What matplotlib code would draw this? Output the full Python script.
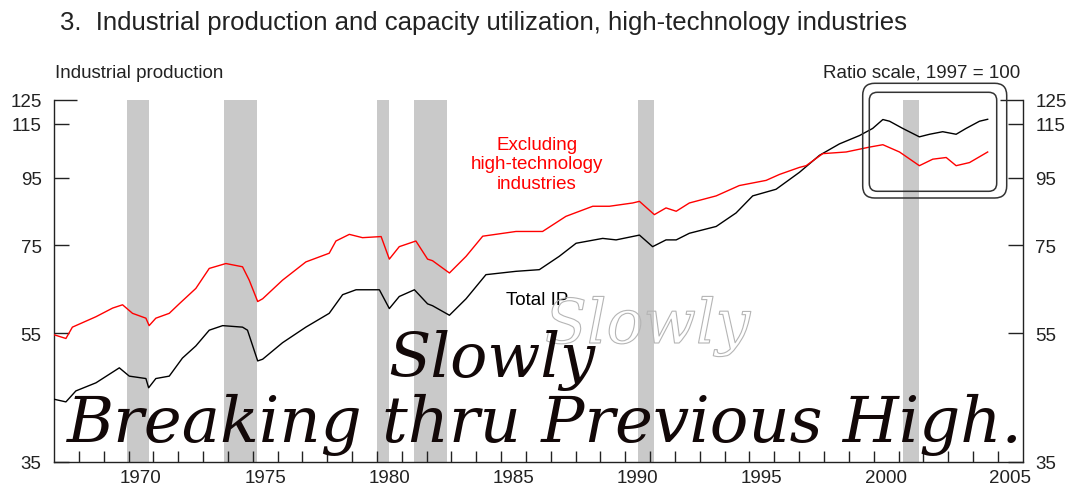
import numpy as np
import matplotlib
matplotlib.use("Agg")
import matplotlib.pyplot as plt
from matplotlib import patheffects
from matplotlib.patches import FancyBboxPatch
from matplotlib.transforms import IdentityTransform
from matplotlib.ticker import FixedLocator, FixedFormatter, NullFormatter

plt.rcParams['font.family'] = ['Liberation Sans', 'DejaVu Sans']

# Total IP, ratio scale, 1997 = 100
total_years = [1967.01, 1967.48, 1967.88, 1968.69, 1969.63, 1970.03, 1970.70, 1970.81,
               1971.10, 1971.64, 1972.17, 1972.71, 1973.25, 1973.79, 1974.59, 1974.79,
               1975.20, 1975.40, 1976.20, 1977.14, 1978.08, 1978.62, 1979.16, 1980.10,
               1980.50, 1980.90, 1981.51, 1982.04, 1982.24, 1982.92, 1983.59, 1984.39,
               1985.60, 1986.54, 1987.34, 1988.02, 1989.09, 1989.63, 1990.57, 1991.10,
               1991.64, 1992.05, 1992.58, 1993.66, 1994.46, 1995.13, 1996.07, 1997.01,
               1997.82, 1998.62, 1999.43, 1999.96, 2000.37, 2000.64, 2001.17, 2001.84,
               2002.25, 2002.78, 2003.32, 2003.72, 2004.26, 2004.59]
total_ip = [43.6, 43.2, 44.9, 46.2, 48.7, 47.3, 46.9, 45.4,
            46.9, 47.3, 50.4, 52.6, 55.6, 56.5, 56.2, 55.6,
            49.9, 50.2, 53.2, 56.2, 59.0, 63.0, 64.1, 64.1,
            60.0, 62.6, 64.1, 61.0, 60.6, 58.6, 62.1, 67.6,
            68.4, 68.8, 72.1, 75.5, 76.8, 76.4, 77.7, 74.6,
            76.4, 76.4, 78.2, 80.1, 84.0, 89.2, 91.3, 96.9,
            102.9, 107.1, 110.3, 113.1, 116.7, 116.0, 113.1, 109.8,
            110.8, 111.8, 110.8, 113.1, 116.0, 116.8]

# Excluding high-technology industries
exhi_years = [1967.01, 1967.48, 1967.74, 1968.69, 1969.36, 1969.76, 1970.16, 1970.70,
              1970.83, 1971.10, 1971.64, 1972.04, 1972.71, 1973.25, 1973.92, 1974.59,
              1974.86, 1975.20, 1975.40, 1976.20, 1977.14, 1978.08, 1978.35, 1978.89,
              1979.42, 1980.17, 1980.50, 1980.90, 1981.57, 1982.04, 1982.24, 1982.92,
              1983.59, 1984.26, 1985.60, 1986.67, 1987.61, 1988.69, 1989.36, 1990.30,
              1990.57, 1991.17, 1991.64, 1992.05, 1992.58, 1993.66, 1994.59, 1995.67,
              1996.21, 1997.01, 1997.28, 1997.95, 1998.89, 1999.83, 2000.37, 2001.04,
              2001.84, 2002.38, 2002.92, 2003.32, 2003.86, 2004.59]
exhi_ip = [54.7, 54.0, 56.2, 58.3, 60.1, 60.8, 59.0, 58.0,
           56.5, 58.0, 59.0, 61.0, 64.4, 69.1, 70.3, 69.5,
           66.3, 61.5, 62.1, 66.3, 70.7, 72.9, 76.1, 77.9,
           77.0, 77.3, 71.4, 74.6, 76.1, 71.4, 71.0, 68.0,
           72.1, 77.4, 78.7, 78.7, 83.0, 86.0, 86.0, 87.0,
           87.5, 83.5, 85.5, 84.5, 87.0, 89.2, 92.5, 94.2,
           96.2, 98.6, 99.2, 103.5, 104.1, 105.9, 106.8, 104.1,
           99.2, 101.5, 102.1, 99.2, 100.3, 104.1]

recessions = [(1969.92, 1970.83), (1973.83, 1975.17), (1980.0, 1980.5),
              (1981.5, 1982.83), (1990.5, 1991.17), (2001.17, 2001.83)]
ytick_vals = [35, 55, 75, 95, 115]
year_labels = [1970, 1975, 1980, 1985, 1990, 1995, 2000, 2005]

W, H = 1071, 485
fig = plt.figure(figsize=(W / 100, H / 100), dpi=100)
ax = fig.add_axes([54 / W, 1 - 462.7 / H, (1022.7 - 54) / W, (462.7 - 101) / H])
ax.set_yscale('log')
ax.set_ylim(35, 125)
ax.set_xlim(1967, 2006)

for a, b in recessions:
    ax.axvspan(a, b, color='#c9c9c9', lw=0, zorder=1)
ax.plot(total_years, total_ip, color='black', lw=1.0, zorder=3)
ax.plot(exhi_years, exhi_ip, color='#ff0000', lw=1.0, zorder=3)

ax.spines['top'].set_visible(False)
for s in ['left', 'right', 'bottom']:
    ax.spines[s].set_linewidth(1.0)
    ax.spines[s].set_color('#222222')

# y axis, both sides, ticks pointing in
ax.yaxis.set_major_locator(FixedLocator(ytick_vals))
ax.yaxis.set_major_formatter(FixedFormatter([str(v) for v in ytick_vals]))
ax.yaxis.set_minor_locator(FixedLocator([125]))
ax.yaxis.set_minor_formatter(FixedFormatter(['125']))
ax.tick_params(axis='y', which='major', direction='in', length=11, width=1,
               left=True, right=True, labelleft=True, labelright=True,
               labelsize=13.5, pad=9, colors='#222222')
ax.tick_params(axis='y', which='minor', direction='in', length=16.5, width=1,
               left=True, right=True, labelleft=True, labelright=True,
               labelsize=13.5, pad=9, colors='#222222')

# x axis: yearly ticks, labels centred inside the year
ax.xaxis.set_major_locator(FixedLocator(np.arange(1968, 2006)))
ax.xaxis.set_major_formatter(NullFormatter())
ax.xaxis.set_minor_locator(FixedLocator([y + 0.5 for y in year_labels]))
ax.xaxis.set_minor_formatter(FixedFormatter([str(y) for y in year_labels]))
ax.tick_params(axis='x', which='major', direction='in', length=8, width=1, colors='#222222')
ax.tick_params(axis='x', which='minor', length=0, labelsize=13.5, pad=5, colors='#222222')

# headings
fig.text(60 / W, 1 - 30 / H,
         "3.  Industrial production and capacity utilization, high-technology industries",
         fontsize=18.5, va='baseline', color='#222222')
fig.text(55 / W, 1 - 77.5 / H, "Industrial production", fontsize=13.5,
         va='baseline', color='#222222')
fig.text(1020 / W, 1 - 78 / H, "Ratio scale, 1997 = 100", fontsize=13.5,
         va='baseline', ha='right', color='#222222')

ax.text(1986.45, 99.8, "Excluding\nhigh-technology\nindustries", color='#ff0000',
        fontsize=13.5, ha='center', va='center', linespacing=1.2, zorder=4)
ax.text(1986.45, 61.9, "Total IP", color='black', fontsize=13.5,
        ha='center', va='center', zorder=4)

# rounded boxes round the latest years
for x0, y0, x1, y1, r in [(862.7, 84.3, 1006.7, 199, 12), (869.3, 93.3, 996.7, 192.3, 8)]:
    box = FancyBboxPatch((x0, H - y1), x1 - x0, y1 - y0,
                         boxstyle=f"round,pad=0,rounding_size={r}",
                         transform=IdentityTransform(), facecolor='none',
                         edgecolor='#333333', lw=1.1, zorder=5)
    fig.add_artist(box)

# handwritten overlay
script = dict(family='DejaVu Serif', style='italic')
ghost = fig.text(647.5 / W, 1 - 344 / H, "Slowly", fontsize=40, ha='center',
                 va='baseline', color='none', zorder=6, **script,
                 path_effects=[patheffects.Stroke(linewidth=0.8, foreground='#b5b5b5')])
slowly = fig.text(491.5 / W, 1 - 377 / H, "Slowly", fontsize=40, ha='center',
                  va='baseline', color='#120808', zorder=7, **script)
breaking = fig.text(544.5 / W, 1 - 442 / H, "Breaking thru Previous High.", fontsize=50,
                    ha='center', va='baseline', color='#120808', zorder=7, **script)

fig.canvas.draw()
for t, target in [(ghost, 205), (slowly, 207), (breaking, 957)]:
    w = t.get_window_extent().width
    t.set_fontsize(t.get_fontsize() * target / w)

fig.savefig("out.png", dpi=100)
